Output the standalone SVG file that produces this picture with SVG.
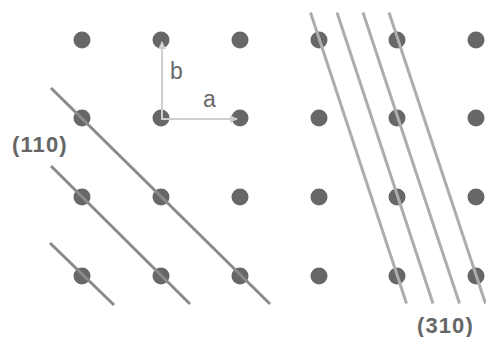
<svg xmlns="http://www.w3.org/2000/svg" width="486" height="337" viewBox="0 0 486 337">
<style>
.dot{fill:#676767}
.l110{stroke:#8a8a8a;stroke-width:3;stroke-linecap:butt}
.l310{stroke:#adadad;stroke-width:3;stroke-linecap:butt}
.vec{stroke:#cfcfcf;stroke-width:2;fill:none}
.lbl{font-family:"Liberation Sans",Arial,sans-serif;fill:#666}
.big{font-size:22px;font-weight:bold;letter-spacing:1.1px}
.small{font-size:23px;fill:#6a6a6a}
</style>
<defs>
<marker id="ah" viewBox="0 0 10 10" refX="9" refY="5" markerWidth="4" markerHeight="4" orient="auto">
<path d="M0,0 L10,5 L0,10 z" fill="#cfcfcf"/>
</marker>
</defs>
<rect width="486" height="337" fill="#fff"/>
<g id="lattice">
<circle class="dot" cx="82" cy="40" r="8.5"/><circle class="dot" cx="161" cy="40" r="8.5"/><circle class="dot" cx="240" cy="40" r="8.5"/><circle class="dot" cx="319" cy="40" r="8.5"/><circle class="dot" cx="397" cy="40" r="8.5"/><circle class="dot" cx="476" cy="40" r="8.5"/>
<circle class="dot" cx="82" cy="118" r="8.5"/><circle class="dot" cx="161" cy="118" r="8.5"/><circle class="dot" cx="240" cy="118" r="8.5"/><circle class="dot" cx="319" cy="118" r="8.5"/><circle class="dot" cx="397" cy="118" r="8.5"/><circle class="dot" cx="476" cy="118" r="8.5"/>
<circle class="dot" cx="82" cy="197" r="8.5"/><circle class="dot" cx="161" cy="197" r="8.5"/><circle class="dot" cx="240" cy="197" r="8.5"/><circle class="dot" cx="319" cy="197" r="8.5"/><circle class="dot" cx="397" cy="197" r="8.5"/><circle class="dot" cx="476" cy="197" r="8.5"/>
<circle class="dot" cx="82" cy="276" r="8.5"/><circle class="dot" cx="161" cy="276" r="8.5"/><circle class="dot" cx="240" cy="276" r="8.5"/><circle class="dot" cx="319" cy="276" r="8.5"/><circle class="dot" cx="397" cy="276" r="8.5"/><circle class="dot" cx="476" cy="276" r="8.5"/>
</g>
<g id="planes110">
<line class="l110" x1="51" y1="88" x2="270" y2="304"/>
<line class="l110" x1="51" y1="166" x2="190" y2="304"/>
<line class="l110" x1="50" y1="243" x2="114" y2="305"/>
</g>
<g id="planes310">
<line class="l310" x1="310.5" y1="12.5" x2="406.5" y2="303.5"/>
<line class="l310" x1="337" y1="12.5" x2="433" y2="303.5"/>
<line class="l310" x1="363" y1="12.5" x2="459.5" y2="303.5"/>
<line class="l310" x1="389" y1="12.5" x2="485.5" y2="303.5"/>
</g>
<g id="vectors">
<line class="vec" x1="162" y1="119" x2="162" y2="42" marker-end="url(#ah)"/>
<line class="vec" x1="161" y1="119" x2="237" y2="119" marker-end="url(#ah)"/>
</g>
<g id="labels">
<text class="lbl small" x="170" y="79">b</text>
<text class="lbl small" x="203" y="107">a</text>
<text class="lbl big" x="12" y="152">(110)</text>
<text class="lbl big" x="417" y="333">(310)</text>
</g>
</svg>
